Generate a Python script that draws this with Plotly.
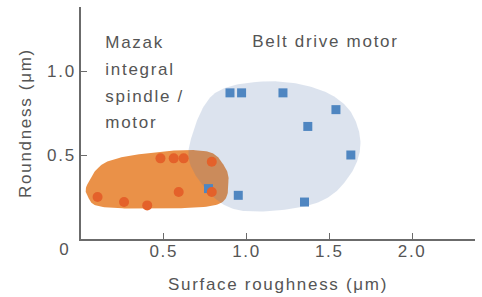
import numpy as np
import plotly.graph_objects as go

# Data
mazak_x = [0.10, 0.26, 0.40, 0.48, 0.56, 0.62, 0.59, 0.79, 0.79]
mazak_y = [0.25, 0.22, 0.20, 0.48, 0.48, 0.48, 0.28, 0.46, 0.28]

belt_x = [0.90, 0.97, 1.22, 1.54, 1.37, 1.63, 0.77, 0.95, 1.35]
belt_y = [0.87, 0.87, 0.87, 0.77, 0.67, 0.50, 0.30, 0.26, 0.22]

# Region outlines (data units)
belt_region_x = [1.095, 1.404, 1.609, 1.688, 1.627, 1.446, 1.101, 0.860, 0.679, 0.660, 0.799]
belt_region_y = [0.9375, 0.902, 0.783, 0.580, 0.384, 0.223, 0.164, 0.205, 0.402, 0.580, 0.860]
mazak_region_x = [0.038, 0.159, 0.497, 0.763, 0.860, 0.890, 0.824, 0.401, 0.117, 0.044]
mazak_region_y = [0.324, 0.461, 0.521, 0.521, 0.443, 0.342, 0.205, 0.182, 0.193, 0.247]

mazak_label_lines = ["Mazak", "integral", "spindle /", "motor"]
belt_label = "Belt drive motor"

x_ticks = [0.5, 1.0, 1.5, 2.0]
x_tick_labels = ["0.5", "1.0", "1.5", "2.0"]
y_ticks = [0.5, 1.0]
y_tick_labels = ["0.5", "1.0"]
origin_label = "0"


def smooth_closed(xs, ys, n=24):
    px = np.array(xs, float)
    py = np.array(ys, float)
    m = len(px)
    outx, outy = [], []
    for i in range(m):
        p0, p1, p2, p3 = i - 1, i, (i + 1) % m, (i + 2) % m
        for t in np.linspace(0, 1, n, endpoint=False):
            t2, t3 = t * t, t * t * t
            def cr(a):
                return 0.5 * ((2 * a[p1]) + (-a[p0] + a[p2]) * t
                              + (2 * a[p0] - 5 * a[p1] + 4 * a[p2] - a[p3]) * t2
                              + (-a[p0] + 3 * a[p1] - 3 * a[p2] + a[p3]) * t3)
            outx.append(cr(px))
            outy.append(cr(py))
    outx.append(outx[0])
    outy.append(outy[0])
    return outx, outy


font = dict(family="Liberation Sans, Arial, sans-serif", size=17, color="#555555")

fig = go.Figure()

mx, my = smooth_closed(mazak_region_x, mazak_region_y)
fig.add_trace(go.Scatter(x=mx, y=my, mode="lines", fill="toself",
                         fillcolor="#EA9148", line=dict(width=0),
                         hoverinfo="skip", showlegend=False))

bx, by = smooth_closed(belt_region_x, belt_region_y)
fig.add_trace(go.Scatter(x=bx, y=by, mode="lines", fill="toself",
                         fillcolor="rgba(80,115,170,0.2)", line=dict(width=0),
                         hoverinfo="skip", showlegend=False))

fig.add_trace(go.Scatter(x=belt_x, y=belt_y, mode="markers",
                         marker=dict(symbol="square", size=9, color="#4F86C1"),
                         showlegend=False))
fig.add_trace(go.Scatter(x=mazak_x, y=mazak_y, mode="markers",
                         marker=dict(symbol="circle", size=10, color="#E4612A"),
                         showlegend=False))

# Region labels (left-anchored text)
fig.add_trace(go.Scatter(x=[0.147] * 4, y=[1.162, 1.004, 0.843, 0.688],
                         mode="text", text=mazak_label_lines,
                         textposition="middle right", textfont=font,
                         hoverinfo="skip", showlegend=False, cliponaxis=False))
fig.add_trace(go.Scatter(x=[1.035], y=[1.166], mode="text", text=[belt_label],
                         textposition="middle right", textfont=font,
                         hoverinfo="skip", showlegend=False, cliponaxis=False))

fig.add_annotation(x=-0.043, y=-0.045, xref="paper", yref="paper", text=origin_label,
                   showarrow=False, xanchor="center", yanchor="middle", font=font)

fig.update_layout(
    width=482, height=297,
    margin=dict(l=81, r=7, t=7, b=58),
    plot_bgcolor="white", paper_bgcolor="white",
    font=font,
    xaxis=dict(range=[0, 2.38], showgrid=False, zeroline=False, automargin=False,
               showline=True, linecolor="#6b6b6b", linewidth=1.5,
               ticks="inside", ticklen=6, tickcolor="#6b6b6b", tickwidth=1,
               tickvals=x_ticks, ticktext=x_tick_labels, ticklabelstandoff=-4,
               title=dict(text="Surface roughness (μm)", standoff=18, font=font)),
    yaxis=dict(range=[0, 1.381], showgrid=False, zeroline=False, automargin=False,
               showline=True, linecolor="#6b6b6b", linewidth=1.5,
               ticks="inside", ticklen=6, tickcolor="#6b6b6b", tickwidth=1,
               tickvals=y_ticks, ticktext=y_tick_labels,
               title=dict(text="Roundness (μm)", standoff=16, font=font)),
)

post = """
document.body.style.margin = '0';
document.querySelectorAll('.main-svg text').forEach(function(t){
  t.style.letterSpacing = '1.7px';
});
"""
fig.write_html("out.html", post_script=post, config={"displayModeBar": False})
